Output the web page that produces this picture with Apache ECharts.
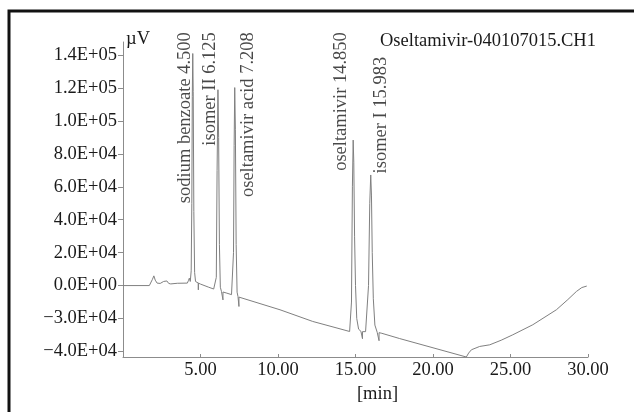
<!DOCTYPE html>
<html>
<head>
<meta charset="utf-8">
<script src="https://cdn.jsdelivr.net/npm/echarts@6/dist/echarts.min.js"></script>
<style>
html, body { margin: 0; padding: 0; background: #fff; }
#main { width: 634px; height: 412px; }
</style>
</head>
<body>
<div id="main"></div>
<script>
// 色谱图：保留时间(min) 和 信号(µV)
var timeMin = [
  0.00, 1.70, 1.80, 1.90, 1.99, 2.08, 2.20, 2.40, 2.52, 2.62,
  2.72, 2.83, 2.95, 3.08, 3.50, 4.15, 4.22, 4.28, 4.34, 4.40,
  4.44, 4.47, 4.50, 4.53, 4.57, 4.62, 4.68, 4.80, 4.86, 4.86,
  4.86, 5.00, 5.50, 5.85, 5.95, 6.02, 6.07, 6.125, 6.17, 6.22,
  6.28, 6.35, 6.45, 6.45, 6.45, 6.70, 7.00, 7.07, 7.13, 7.17,
  7.208, 7.25, 7.30, 7.36, 7.42, 7.48, 7.48, 7.48, 7.60, 10.13,
  12.24, 14.00, 14.62, 14.68, 14.74, 14.80, 14.85, 14.89, 14.94, 15.00,
  15.08, 15.20, 15.35, 15.45, 15.45, 15.45, 15.65, 15.76, 15.84, 15.92,
  15.983, 16.03, 16.08, 16.15, 16.25, 16.40, 16.52, 16.52, 16.52, 16.70,
  17.85, 20.00, 22.15, 22.30, 22.48, 23.01, 23.66, 24.40, 25.15, 26.44,
  27.96, 28.70, 29.25, 29.60, 29.92
]
var signal = [
  0, 0, 400, 3800, 5900, 3300, 1500, 1300, 1700, 2500,
  1400, 2800, 1300, 1000, 1400, 1500, 3000, 4500, 2500, 9000,
  50000, 115000, 141000, 118000, 45000, 8000, 2500, 1700, 1500, -2600,
  1500, 900, -900, -2100, -2400, 5000, 70000, 119000, 90000, 25000,
  -1000, -3500, -3900, -8700, -3900, -4600, -5500, -5700, 20000, 85000,
  120300, 95000, 25000, -4000, -6700, -7000, -12700, -7000, -7300, -14700,
  -21800, -26300, -27900, -27600, -10000, 60000, 88400, 75000, 30000, 0,
  -20000, -26500, -27800, -28000, -32300, -28000, -28000, -27000, 0, 50000,
  67200, 55000, 20000, -8000, -24000, -28400, -28600, -33500, -28600, -29000,
  -32200, -37800, -43400, -41000, -39000, -37000, -36000, -33200, -29900, -23800,
  -14700, -8500, -3600, -1200, -300
]

// 峰名称
var peakTimes = [4.500, 6.125, 7.208, 14.850, 15.983]
var peakNames = ['sodium benzoate 4.500', 'isomer II 6.125', 'oseltamivir acid 7.208', 'oseltamivir 14.850', 'isomer I 15.983']

// 刻度
var xTicks = [5, 10, 15, 20, 25, 30]
var yTicks = [-40000, -20000, 0, 20000, 40000, 60000, 80000, 100000, 120000, 140000]
var yTickLabels = ['\u22124.0E+04', '\u22123.0E+04', '0.0E+00', '2.0E+04', '4.0E+04', '6.0E+04', '8.0E+04', '1.0E+05', '1.2E+05', '1.4E+05']

// 峰标签摆放：相对峰的时间偏移、标签顶端的纵坐标
var labelShift = [0.15, 0.14, 1.47, -0.16, 1.29]
var labelTop = [154000, 154000, 154000, 154000, 139000]

var font = 'Liberation Serif'
var fontSize = 18.5
var textColor = '#1a1a1a'
var axisColor = '#8c8c8c'

var trace = []
for (var i = 0; i < timeMin.length; i++) {
  trace.push([timeMin[i], signal[i]])
}
var labelData = []
for (var j = 0; j < peakTimes.length; j++) {
  labelData.push({
    name: peakNames[j],
    value: [peakTimes[j] + labelShift[j], labelTop[j]]
  })
}

var chart = echarts.init(document.getElementById('main'), null, { renderer: 'canvas' })
var option = {
  backgroundColor: '#fff',
  animation: false,
  title: {
    text: 'Oseltamivir-040107015.CH1',
    left: 380,
    top: 32,
    padding: 0,
    textStyle: { fontFamily: font, fontSize: fontSize, fontWeight: 'normal', color: textColor }
  },
  grid: { left: 123, right: 46, top: 42, bottom: 55, containLabel: false },
  xAxis: {
    type: 'value',
    min: 0,
    max: 30,
    name: '[min]',
    nameLocation: 'middle',
    nameGap: 23,
    nameTextStyle: { fontFamily: font, fontSize: fontSize, color: textColor, padding: [0, 0, 0, 44] },
    axisLine: { show: true, onZero: false, lineStyle: { color: axisColor, width: 1 } },
    axisTick: { show: true, inside: true, length: 3, customValues: xTicks, lineStyle: { color: axisColor } },
    axisLabel: {
      customValues: xTicks,
      margin: 4,
      fontFamily: font,
      fontSize: fontSize,
      color: textColor,
      formatter: function (v) { return v.toFixed(2) }
    },
    splitLine: { show: false }
  },
  yAxis: {
    type: 'value',
    min: -43400,
    max: 148000,
    name: '\u00b5V',
    nameLocation: 'end',
    nameGap: 3,
    nameTextStyle: { fontFamily: font, fontSize: fontSize, color: textColor, align: 'left', verticalAlign: 'middle', padding: [0, 0, 0, 3] },
    axisLine: { show: true, onZero: false, lineStyle: { color: axisColor, width: 1 } },
    axisTick: { show: true, length: 5, customValues: yTicks, lineStyle: { color: axisColor } },
    axisLabel: {
      customValues: yTicks,
      margin: 6,
      fontFamily: font,
      fontSize: fontSize,
      color: textColor,
      formatter: function (v) { return yTickLabels[yTicks.indexOf(v)] }
    },
    splitLine: { show: false }
  },
  graphic: [{
    type: 'rect',
    silent: true,
    shape: { x: 9, y: 11, width: 700, height: 500 },
    style: { fill: 'none', stroke: '#111', lineWidth: 3 }
  }],
  series: [{
    type: 'line',
    data: trace,
    symbol: 'none',
    clip: false,
    lineStyle: { color: '#808080', width: 1 }
  }, {
    type: 'scatter',
    data: labelData,
    symbolSize: 1,
    clip: false,
    itemStyle: { color: 'rgba(0,0,0,0)' },
    label: {
      show: true,
      position: 'inside',
      rotate: 90,
      align: 'right',
      verticalAlign: 'bottom',
      formatter: '{b}',
      fontFamily: font,
      fontSize: fontSize,
      color: textColor
    }
  }]
}
chart.setOption(option)
</script>
</body>
</html>
